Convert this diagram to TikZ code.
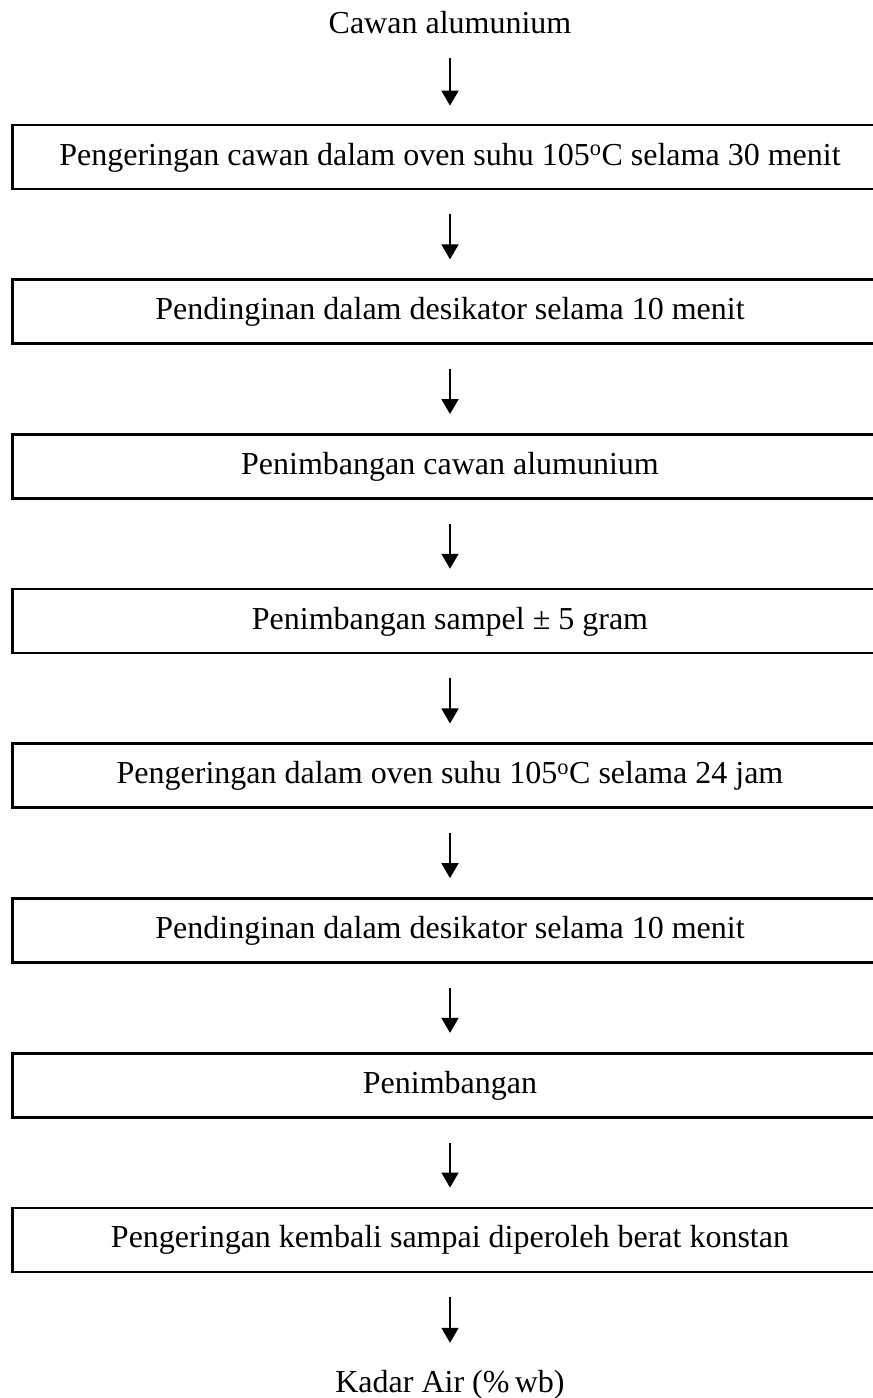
\documentclass[tikz,border=0pt]{standalone}
\usepackage{fontspec}
\setmainfont{Liberation Serif}
\usetikzlibrary{arrows.meta}
\begin{document}
\begin{tikzpicture}[x=1pt,y=-1pt,
  txt/.style={inner sep=0pt,text height=22pt,text depth=6pt,font=\fontsize{32}{38}\selectfont},
  stepbox/.style={txt,draw,line width=2.7pt,minimum width=875pt,minimum height=64pt},
  arr/.style={line width=1.8pt,-{Triangle[length=15pt,width=17pt]},shorten <=24pt,shorten >=19pt}]
\useasboundingbox (0,0) rectangle (873,1398);
\clip (0,0) rectangle (873,1398);
\node[txt,anchor=base] (c) at (450,33) {Cawan alumunium};
\node[stepbox] (b1) at (450,157.0) {Pengeringan cawan dalam oven suhu 105\textsuperscript{o}C selama 30 menit};
\node[stepbox] (b2) at (450,311.7) {Pendinginan dalam desikator selama 10 menit};
\node[stepbox] (b3) at (450,466.4) {Penimbangan cawan alumunium};
\node[stepbox] (b4) at (450,621.1) {Penimbangan sampel ± 5 gram};
\node[stepbox] (b5) at (450,775.8) {Pengeringan dalam oven suhu 105\textsuperscript{o}C selama 24 jam};
\node[stepbox] (b6) at (450,930.5) {Pendinginan dalam desikator selama 10 menit};
\node[stepbox] (b7) at (450,1085.2) {Penimbangan};
\node[stepbox] (b8) at (450,1239.9) {Pengeringan kembali sampai diperoleh berat konstan};
\node[txt,anchor=base] (k) at (450,1392) {Kadar Air (\%\,wb)};
\draw[arr,shorten <=19pt,shorten >=18pt] (c.south) -- (b1.north);
\draw[arr] (b1.south) -- (b2.north);
\draw[arr] (b2.south) -- (b3.north);
\draw[arr] (b3.south) -- (b4.north);
\draw[arr] (b4.south) -- (b5.north);
\draw[arr] (b5.south) -- (b6.north);
\draw[arr] (b6.south) -- (b7.north);
\draw[arr] (b7.south) -- (b8.north);
\draw[arr,shorten >=27pt] (b8.south) -- (k.north);
\end{tikzpicture}
\end{document}
